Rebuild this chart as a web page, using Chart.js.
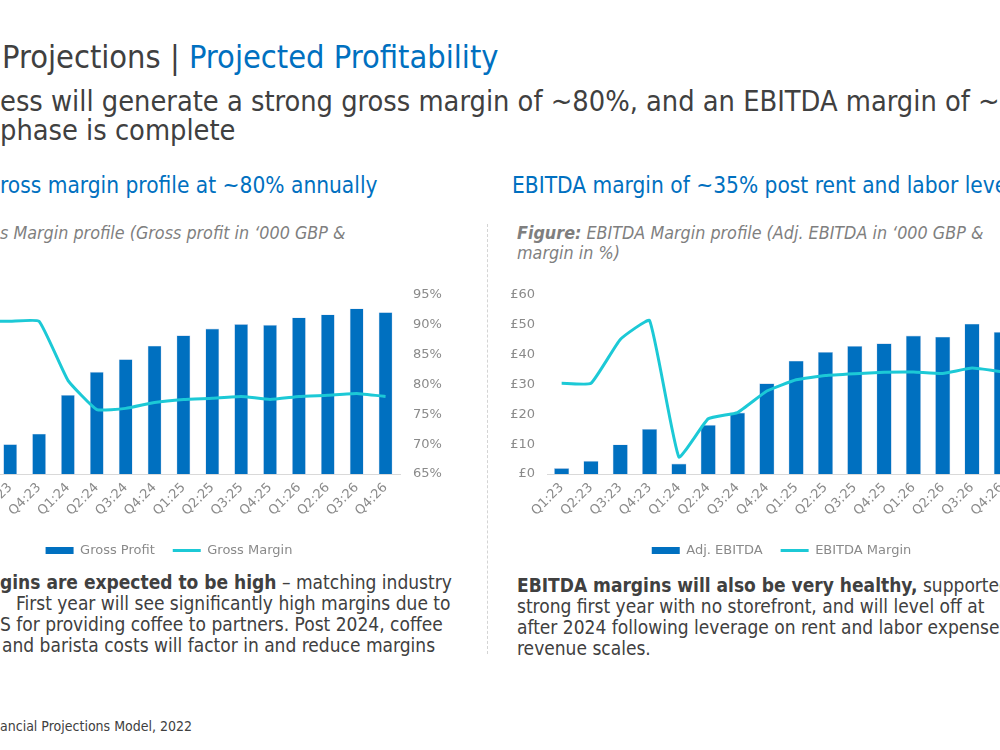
<!DOCTYPE html>
<html>
<head>
<meta charset="utf-8">
<script src="https://cdn.jsdelivr.net/npm/chart.js@4/dist/chart.umd.min.js"></script>
<style>
  html, body { margin: 0; padding: 0; background: #fff; }
  body { width: 1000px; height: 750px; position: relative; overflow: hidden;
         font-family: "DejaVu Sans Condensed", "DejaVu Sans", sans-serif; color: #404040; }
  .t { position: absolute; white-space: nowrap; }
  .azul { color: #0070C0; }
  .leg { color: #7f7f7f; font-style: italic; font-size: 17.8px; }
  .corpo { font-size: 19px; }
  .box { position: absolute; }
  .divisor { position: absolute; left: 487px; top: 224px; height: 430px; border-left: 1px dashed #d4d4d4; }
</style>
</head>
<body>

<div class="t" style="left:2px; top:38px; font-size:32.3px;">Projections | <span class="azul">Projected Profitability</span></div>
<div class="t" style="left:0; top:84px; font-size:28.7px;">ess will generate a strong gross margin of ~80%, and an EBITDA margin of ~</div>
<div class="t" style="left:0; top:113px; font-size:28.7px;">phase is complete</div>

<div class="t azul" style="left:0; top:172px; font-size:22.5px;">ross margin profile at ~80% annually</div>
<div class="t azul" style="left:512px; top:172px; font-size:22.5px;">EBITDA margin of ~35% post rent and labor leverage</div>

<div class="t leg" style="left:0; top:222px;">s Margin profile (Gross profit in ‘000 GBP &amp;</div>
<div class="t leg" style="left:517px; top:222px;"><b>Figure:</b> EBITDA Margin profile (Adj. EBITDA in ‘000 GBP &amp;</div>
<div class="t leg" style="left:517px; top:242px;">margin in %)</div>

<div class="divisor"></div>

<div class="box" style="left:-62px; top:270px; width:512px; height:300px;"><canvas id="grafBruto"></canvas></div>
<div class="box" style="left:500px; top:270px; width:520px; height:300px;"><canvas id="grafEbitda"></canvas></div>

<div class="t corpo" style="left:0; top:571px;"><b>gins are expected to be high</b> – matching industry</div>
<div class="t corpo" style="left:16px; top:592px;">First year will see significantly high margins due to</div>
<div class="t corpo" style="left:0; top:613px;">S for providing coffee to partners. Post 2024, coffee</div>
<div class="t corpo" style="left:2px; top:634px;">and barista costs will factor in and reduce margins</div>

<div class="t corpo" style="left:517px; top:574px;"><b>EBITDA margins will also be very healthy,</b> supported by a</div>
<div class="t corpo" style="left:517px; top:595px;">strong first year with no storefront, and will level off at</div>
<div class="t corpo" style="left:517px; top:616px;">after 2024 following leverage on rent and labor expenses</div>
<div class="t corpo" style="left:517px; top:637px;">revenue scales.</div>

<div class="t" style="left:0; top:718px; font-size:14px;">ancial Projections Model, 2022</div>

<script>
// trimestres (eixo x)
const trimestres = ['Q1:23','Q2:23','Q3:23','Q4:23','Q1:24','Q2:24','Q3:24','Q4:24',
                    'Q1:25','Q2:25','Q3:25','Q4:25','Q1:26','Q2:26','Q3:26','Q4:26'];

// lucro bruto ('000 GBP) e margem bruta (%)
const lucroBruto = [6, 13.5, 20, 27, 53, 68.5, 77, 86, 93, 97.5, 100.5, 100, 105, 107, 111, 108.5];
const margemBruta = [90.6, 90.6, 90.6, 90.6, 80.7, 75.8, 76.0, 77.0, 77.5, 77.7, 78.0, 77.5, 78.0, 78.2, 78.5, 78.0];

// EBITDA ajustado ('000 GBP) e margem EBITDA (%)
const ebitdaAj = [2.0, 4.4, 9.9, 15.1, 3.5, 16.5, 20.6, 30.4, 38.0, 40.9, 42.9, 43.8, 46.4, 46.0, 50.4, 47.6];
const margemEbitda = [30.4, 30.4, 45.1, 51.4, 5.7, 18.5, 20.6, 27.8, 31.6, 33.0, 33.6, 34.1, 34.2, 33.7, 35.5, 34.3];

// ticks das margens e do EBITDA
const ticksMargem = [65, 70, 75, 80, 85, 90, 95];
const ticksLibra = [0, 10, 20, 30, 40, 50, 60];

const AZUL = '#0070C0';
const CIANO = '#1CC9D6';
const CINZA = '#8a8a8a';
Chart.defaults.font.family = '"DejaVu Sans", sans-serif';
Chart.defaults.font.size = 13;
Chart.defaults.color = CINZA;

function legendaPadrao() {
    return {
        position: 'bottom',
        fullSize: false,
        labels: {
            usePointStyle: true,
            pointStyleWidth: 28,
            boxHeight: 7,
            padding: 18,
            color: CINZA,
            sort: (a, b) => a.datasetIndex - b.datasetIndex,
            generateLabels: chart => Chart.defaults.plugins.legend.labels.generateLabels(chart).map(l => {
                const barra = l.datasetIndex === 0;
                l.pointStyle = barra ? 'rect' : 'line';
                l.lineWidth = barra ? 0 : 3;
                l.fillStyle = barra ? AZUL : CIANO;
                l.strokeStyle = barra ? AZUL : CIANO;
                return l;
            })
        }
    };
}

function eixoX() {
    return {
        grid: { display: false, drawTicks: false },
        border: { color: '#d9d9d9', width: 1 },
        ticks: { minRotation: 45, maxRotation: 45, autoSkip: false, padding: 6, color: CINZA },
        afterFit: s => { s.height = 52; s.paddingLeft = 0; s.paddingRight = 0; }
    };
}

// 1. GRÁFICO DA MARGEM BRUTA
function desenharGraficoBruto() {
    const ctx = document.getElementById('grafBruto').getContext('2d');
    new Chart(ctx, {
        data: {
            labels: trimestres,
            datasets: [
                { type: 'bar', label: 'Gross Profit', data: lucroBruto, yAxisID: 'y',
                  backgroundColor: AZUL, borderColor: '#c8d4ec', borderWidth: 0.6,
                  barPercentage: 0.48, categoryPercentage: 1, order: 2 },
                { type: 'line', label: 'Gross Margin', data: margemBruta, yAxisID: 'y1',
                  borderColor: CIANO, backgroundColor: CIANO, borderWidth: 3,
                  pointRadius: 0, tension: 0.12, order: 1 }
            ]
        },
        options: {
            responsive: true, maintainAspectRatio: false, animation: false,
            layout: { autoPadding: false, padding: { top: 25, bottom: 3, left: 0, right: 0 } },
            plugins: { legend: legendaPadrao(), tooltip: { enabled: false } },
            scales: {
                x: eixoX(),
                y: { display: false, min: 0, max: 120 },
                y1: {
                    position: 'right', min: 65, max: 95,
                    grid: { display: false, drawTicks: false }, border: { display: false },
                    afterBuildTicks: s => { s.ticks = ticksMargem.map(v => ({ value: v })); },
                    ticks: { padding: 13, color: CINZA, callback: v => v + '%' },
                    afterFit: s => { s.width = 50; }
                }
            }
        }
    });
}

// 2. GRÁFICO DA MARGEM EBITDA
function desenharGraficoEbitda() {
    const ctx = document.getElementById('grafEbitda').getContext('2d');
    new Chart(ctx, {
        data: {
            labels: trimestres,
            datasets: [
                { type: 'bar', label: 'Adj. EBITDA', data: ebitdaAj, yAxisID: 'y',
                  backgroundColor: AZUL, borderColor: '#c8d4ec', borderWidth: 0.6,
                  barPercentage: 0.52, categoryPercentage: 1, order: 2 },
                { type: 'line', label: 'EBITDA Margin', data: margemEbitda, yAxisID: 'y1',
                  borderColor: CIANO, backgroundColor: CIANO, borderWidth: 3,
                  pointRadius: 0, tension: 0.12, order: 1 }
            ]
        },
        options: {
            responsive: true, maintainAspectRatio: false, animation: false,
            layout: { autoPadding: false, padding: { top: 25, bottom: 3, left: 0, right: 4 } },
            plugins: { legend: legendaPadrao(), tooltip: { enabled: false } },
            scales: {
                x: eixoX(),
                y: {
                    position: 'left', min: 0, max: 60,
                    grid: { display: false, drawTicks: false }, border: { display: false },
                    afterBuildTicks: s => { s.ticks = ticksLibra.map(v => ({ value: v })); },
                    ticks: { padding: 12, color: CINZA, callback: v => '£' + v },
                    afterFit: s => { s.width = 47; }
                },
                y1: { display: false, position: 'right', min: 0, max: 60 }
            }
        }
    });
}

window.onload = () => {
    desenharGraficoBruto();
    desenharGraficoEbitda();
};
</script>
</body>
</html>
